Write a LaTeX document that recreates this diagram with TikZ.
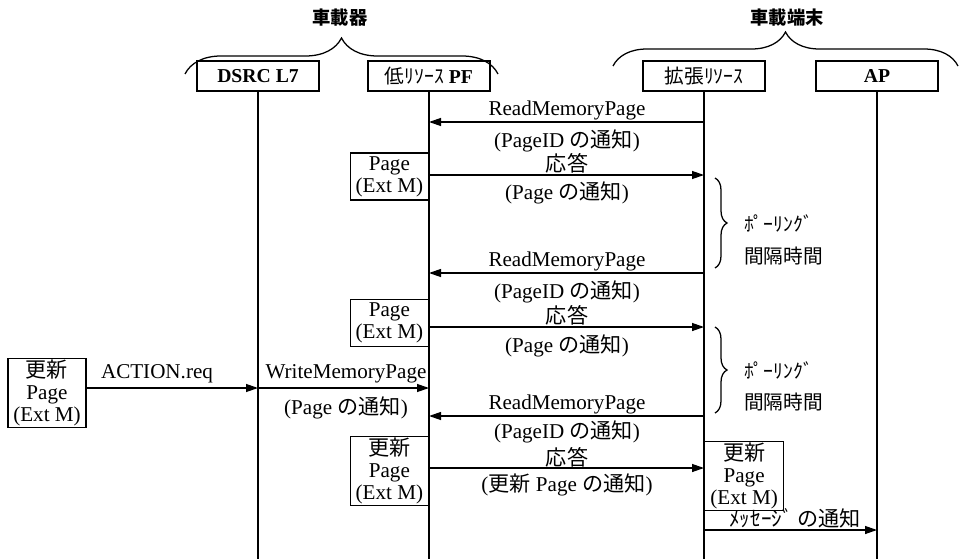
\documentclass[tikz,border=0pt]{standalone}
\usepackage{fontspec}
\setmainfont{Liberation Serif}
\newfontfamily\jp{Noto Sans CJK JP}
\usetikzlibrary{arrows.meta, decorations.pathreplacing}
\tikzset{
  every picture/.style={line width=0.9pt},
  head/.style={draw, minimum width=3.05cm, minimum height=0.75cm, inner sep=2pt, font=\fontsize{14}{15}\selectfont\bfseries},
  pagebox/.style={draw, fill=white, minimum width=1.95cm, align=center, inner sep=1pt, font=\fontsize{15}{15.5}\selectfont},
  msg/.style={-{Triangle[length=0.3cm, width=0.2cm]}},
  lbl/.style={inner sep=1pt, font=\fontsize{15}{16}\selectfont},
  title/.style={font=\jp\bfseries\fontsize{13}{14}\selectfont},
  wait/.style={anchor=west, inner sep=1pt, font=\jp\fontsize{14}{15}\selectfont},
  grp/.style={decorate, decoration={brace, amplitude=#1}},
}

\begin{document}
\begin{tikzpicture}[x=0.025cm, y=-0.025cm]
  \useasboundingbox (0,0) rectangle (959,559);
  % groups
  \node[title] (tveh) at (340,18) {車載器};
  \node[title] (tterm) at (787,18) {車載端末};
  \draw[grp=0.9cm] (185,74) -- (498,74);
  \draw[grp=0.85cm] (613,66) -- (958,66);
  % lifelines
  \node[head] (dsrc) at (258,76) {DSRC L7};
  \node[head] (pf) at (429,76) {{\jp\mdseries 低ﾘｿｰｽ} PF};
  \node[head] (ext) at (704,76) {\jp\mdseries 拡張ﾘｿｰｽ};
  \node[head] (ap) at (877,76) {AP};
  \coordinate (bottom) at (0,559);
  \foreach \n in {dsrc, pf, ext, ap} \draw (\n.south) -- (\n |- bottom);
  % first poll
  \draw[msg] (ext |- 0,122) -- (pf |- 0,122);
  \node[lbl] (rd1) at (567,110) {ReadMemoryPage};
  \node[lbl] (rd1n) at (567,141) {(PageID {\jp の通知})};
  \node[pagebox, minimum height=1.175cm, anchor=east] (pg1) at (429,176.5) {Page\\(Ext M)};
  \draw[msg] (pf |- 0,175) -- (ext |- 0,175);
  \node[lbl] (ans1) at (567,163) {\jp 応答};
  \node[lbl] (ans1n) at (567,193) {(Page {\jp の通知})};
  \draw[grp=0.3cm] (715,178) -- (715,268);
  \node[wait] (poll1) at (742,223) {ﾎﾟｰﾘﾝｸﾞ};
  \node[wait] (gap1) at (742,256) {間隔時間};
  % second poll
  \draw[msg] (ext |- 0,273) -- (pf |- 0,273);
  \node[lbl] (rd2) at (567,261) {ReadMemoryPage};
  \node[lbl] (rd2n) at (567,292) {(PageID {\jp の通知})};
  \node[pagebox, minimum height=1.175cm, anchor=east] (pg2) at (429,323) {Page\\(Ext M)};
  \draw[msg] (pf |- 0,327) -- (ext |- 0,327);
  \node[lbl] (ans2) at (567,315) {\jp 応答};
  \node[lbl] (ans2n) at (567,346) {(Page {\jp の通知})};
  \draw[grp=0.3cm] (715,327) -- (715,413);
  \node[wait] (poll2) at (742,370) {ﾎﾟｰﾘﾝｸﾞ};
  \node[wait] (gap2) at (742,402) {間隔時間};
  % update from outside
  \node[pagebox, minimum height=1.7cm] (upd) at (47,393) {{\jp 更新}\\Page\\(Ext M)};
  \draw[msg] (upd.east |- 0,388) -- (dsrc |- 0,388);
  \node[lbl] (act) at (157,374) {ACTION.req};
  \draw[msg] (dsrc |- 0,388) -- (pf |- 0,388);
  \node[lbl] (wr) at (346,374) {WriteMemoryPage};
  \node[lbl] (wrn) at (346,408) {(Page {\jp の通知})};
  % third poll
  \draw[msg] (ext |- 0,416) -- (pf |- 0,416);
  \node[lbl] (rd3) at (567,404) {ReadMemoryPage};
  \node[lbl] (rd3n) at (567,432) {(PageID {\jp の通知})};
  \node[pagebox, minimum height=1.65cm, anchor=east] (pg3) at (429,471) {{\jp 更新}\\Page\\(Ext M)};
  \draw[msg] (pf |- 0,468) -- (ext |- 0,468);
  \node[lbl] (ans3) at (567,457) {\jp 応答};
  \node[lbl] (ans3n) at (567,485) {({\jp 更新} Page {\jp の通知})};
  \node[pagebox, minimum width=1.975cm, minimum height=1.65cm, anchor=west] (pg4) at (704,476) {{\jp 更新}\\Page\\(Ext M)};
  \draw[msg] (ext |- 0,530) -- (ap |- 0,530);
  \node[lbl] (note) at (795,518) {\jp ﾒｯｾｰｼﾞ の通知};
\end{tikzpicture}
\end{document}
